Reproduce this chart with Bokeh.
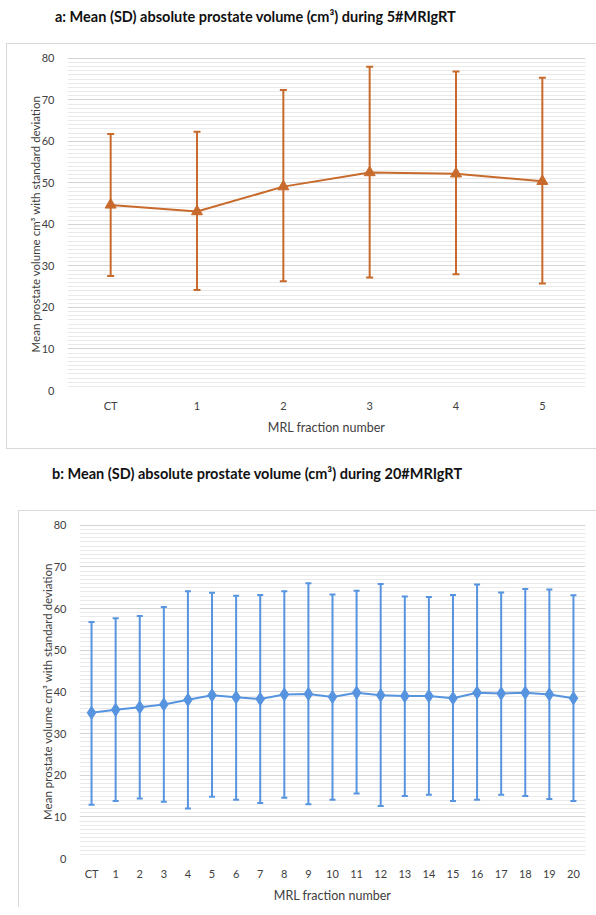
from bokeh.plotting import figure
from bokeh.models import (ColumnDataSource, Whisker, FactorRange, Range1d,
                          SingleIntervalTicker, Div, TeeHead)
from bokeh.layouts import column
from bokeh.embed import file_html
from bokeh.resources import INLINE

# ---- data: panel a (5 fractions) ----
cats5 = ["CT", "1", "2", "3", "4", "5"]
mean5 = [44.7, 43.1, 49.1, 52.5, 52.2, 50.4]
upper5 = [61.8, 62.3, 72.4, 78.0, 76.8, 75.3]
lower5 = [27.6, 24.2, 26.3, 27.2, 28.0, 25.8]

# ---- data: panel b (20 fractions) ----
cats20 = ["CT", "1", "2", "3", "4", "5", "6", "7", "8", "9", "10",
          "11", "12", "13", "14", "15", "16", "17", "18", "19", "20"]
mean20 = [35.0, 35.7, 36.3, 37.0, 38.1, 39.2, 38.7, 38.3, 39.4, 39.5, 38.8,
          39.8, 39.2, 39.0, 39.0, 38.5, 39.8, 39.6, 39.8, 39.4, 38.5]
upper20 = [56.8, 57.7, 58.2, 60.4, 64.2, 63.8, 63.1, 63.3, 64.2, 66.1, 63.4,
           64.3, 65.9, 62.9, 62.8, 63.3, 65.8, 63.9, 64.7, 64.6, 63.2]
lower20 = [12.9, 13.8, 14.4, 13.6, 12.0, 14.8, 14.1, 13.3, 14.6, 13.0, 14.1,
           15.6, 12.6, 15.0, 15.3, 13.8, 14.1, 15.3, 15.0, 14.3, 13.8]

title_a = "a: Mean (SD) absolute prostate volume (cm³) during 5#MRIgRT"
title_b = "b: Mean (SD) absolute prostate volume (cm³) during 20#MRIgRT"
ylabel = "Mean prostate volume cm³ with standard deviation"
xlabel = "MRL fraction number"

FONT = "Lato"
ORANGE = "#C86A2C"
BLUE = "#5794E0"


def make_fig(cats, mean, upper, lower, color, marker, msize, width, height,
             mb_left, mb_right, mb_top, mb_bottom, cap, shadow):
    src = ColumnDataSource(dict(x=cats, y=mean, upper=upper, lower=lower))
    p = figure(x_range=FactorRange(factors=cats, range_padding=0),
               y_range=Range1d(0, 80.2), width=width, height=height,
               output_backend="svg", toolbar_location=None,
               min_border=0,
               min_border_left=mb_left, min_border_right=mb_right,
               min_border_top=mb_top, min_border_bottom=mb_bottom,
               margin=0)
    p.border_fill_color = None
    p.background_fill_color = "white"
    p.outline_line_color = None
    p.styles = {"box-shadow": shadow, "background-color": "white"}

    p.yaxis.ticker = SingleIntervalTicker(interval=10, num_minor_ticks=10)
    p.ygrid.grid_line_color = "#d4d4d4"
    p.ygrid.grid_line_width = 1
    p.ygrid.minor_grid_line_color = "#e9e9e9"
    p.ygrid.minor_grid_line_width = 1
    p.xgrid.grid_line_color = None

    for ax in (p.xaxis[0], p.yaxis[0]):
        ax.axis_line_color = None
        ax.major_tick_line_color = None
        ax.minor_tick_line_color = None
        ax.major_tick_in = 0
        ax.major_tick_out = 0
        ax.major_label_text_font = FONT
        ax.major_label_text_font_size = "11px"
        ax.major_label_text_color = "#404040"
        ax.axis_label_text_font = FONT
        ax.axis_label_text_font_style = "normal"
        ax.axis_label_text_color = "#404040"
    p.yaxis.axis_label = ylabel
    p.xaxis.axis_label = xlabel
    p.yaxis.axis_label_text_font_size = "11.5px"
    p.xaxis.axis_label_text_font_size = "12.5px"
    p.yaxis.major_label_standoff = 9
    p.yaxis.axis_label_standoff = -3
    p.xaxis.major_label_standoff = 8
    p.xaxis.axis_label_standoff = 5

    w = Whisker(base="x", upper="upper", lower="lower", source=src,
                dimension="height", line_color=color, line_width=2,
                upper_head=TeeHead(size=cap, line_color=color, line_width=2),
                lower_head=TeeHead(size=cap, line_color=color, line_width=2))
    p.add_layout(w)
    p.line("x", "y", source=src, line_color=color, line_width=2)
    p.scatter("x", "y", source=src, marker=marker, size=msize,
              fill_color=color, line_color=color)
    return p


def title_div(text, height, pad_top, pad_left):
    html = ('<div style="font-family:Lato;font-weight:bold;font-size:14.5px;'
            'color:#111;line-height:16px;white-space:nowrap;'
            f'padding-top:{pad_top}px;padding-left:{pad_left}px;">{text}</div>')
    return Div(text=html, width=590, height=height, margin=0)


div_a = title_div(title_a, 43, 9, 55)
fig_a = make_fig(cats5, mean5, upper5, lower5, ORANGE, "triangle", 11,
                 590, 406, 61, 11, 14, 59, 7,
                 "inset 1px 1px 0 0 #d9d9d9, inset 0 -1px 0 0 #d9d9d9")
fig_a.margin = (0, 0, 0, 6)
div_b = title_div(title_b, 61, 17, 52)
fig_b = make_fig(cats20, mean20, upper20, lower20, BLUE, "diamond", 13,
                 578, 397, 61, 0, 14, 49, 6,
                 "inset 1px 1px 0 0 #d9d9d9")
fig_b.margin = (0, 0, 0, 18)

layout = column(div_a, fig_a, div_b, fig_b, spacing=0, margin=0)

open("out.html", "w").write(file_html(layout, INLINE))
